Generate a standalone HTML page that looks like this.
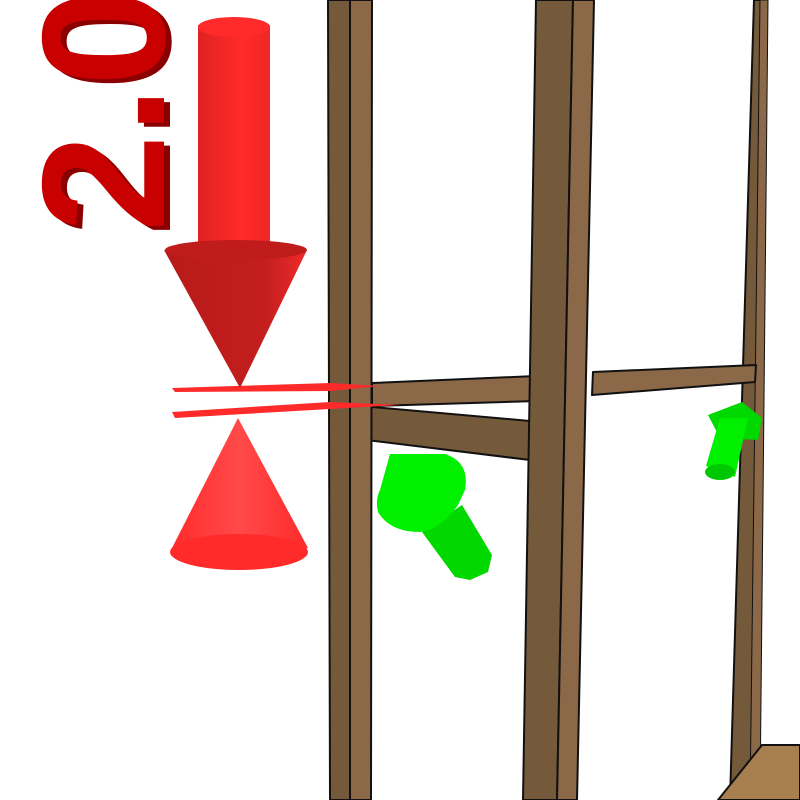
<!DOCTYPE html>
<html><head><meta charset="utf-8"><style>html,body{margin:0;padding:0;background:#fff}svg{display:block}</style></head>
<body>
<svg width="800" height="800" viewBox="0 0 800 800">
<defs>
<linearGradient id="shaft" x1="0" x2="1"><stop offset="0" stop-color="#e02222"/><stop offset="0.6" stop-color="#ff2a2a"/><stop offset="1" stop-color="#f02525"/></linearGradient>
<linearGradient id="cone" x1="0" x2="1"><stop offset="0" stop-color="#b81a1a"/><stop offset="0.7" stop-color="#c41e1e"/><stop offset="1" stop-color="#ee2a2a"/></linearGradient>
<linearGradient id="cone2" x1="0" x2="1"><stop offset="0" stop-color="#ff2a2a"/><stop offset="0.5" stop-color="#ff4a4a"/><stop offset="1" stop-color="#ff2a2a"/></linearGradient>
</defs>
<g stroke="#111" stroke-width="2" stroke-linejoin="round">
<polygon points="754,0 762,0 752,800 730,800" fill="#75593b"/>
<polygon points="760,0 768,0 760,800 750,800" fill="#8a6848" stroke-width="1"/>
<polygon points="593,372 756,365 755,382 592,395" fill="#8a6848"/>
<polygon points="372,383 536,376 536,401 372,406" fill="#8a6848"/>
<polygon points="350,405 530,421 530,460 350,438" fill="#75593b"/>
<polygon points="328,0 350,0 350,800 330,800" fill="#75593b"/>
<polygon points="350,0 372,0 371,800 350,800" fill="#8a6848"/>
<polygon points="536,0 573,0 557,800 523,800" fill="#75593b"/>
<polygon points="573,0 594,0 577,800 557,800" fill="#8a6848"/>
<polygon points="718,800 762,745 800,745 800,800" fill="#a8804f"/>
</g>
<polygon points="172,388 330,383 380,386 330,391 175,392" fill="#ff2a2a"/>
<polygon points="172,412 330,402 400,405 330,409 175,418" fill="#ff2a2a"/>
<g>
<rect x="198" y="25" width="72" height="225" fill="url(#shaft)"/>
<ellipse cx="234" cy="27" rx="36" ry="10" fill="#ff2a2a"/>
<polygon points="164,250 307,250 240,388" fill="url(#cone)"/>
<ellipse cx="236" cy="250" rx="71" ry="10" fill="#c01c1c"/>
<polygon points="238,418 170,552 308,548" fill="url(#cone2)"/>
<ellipse cx="239" cy="552" rx="69" ry="18" fill="#ff2a2a"/>
</g>
<g font-family="Liberation Sans, sans-serif" font-weight="bold" font-size="175">
<text transform="translate(170,236) rotate(-90)" fill="#8a0000">2.0</text>
<text transform="translate(164,232) rotate(-90)" fill="#c80000">2.0</text>
</g>
<g>
<polygon points="422,532 462,505 492,555 488,572 470,580 455,577" fill="#00d800"/>
<path d="M390,454 L445,454 Q470,462 465,490 L458,505 Q440,530 420,532 Q390,532 378,512 Q375,500 380,490 Z" fill="#00f000"/>
</g>
<g>
<polygon points="708,415 742,402 762,418 758,440 720,438" fill="#00d800"/>
<polygon points="720,418 748,418 735,477 706,466" fill="#00f000"/>
<ellipse cx="720" cy="472" rx="15" ry="8" fill="#00c800"/>
</g>
</svg>
</body></html>
